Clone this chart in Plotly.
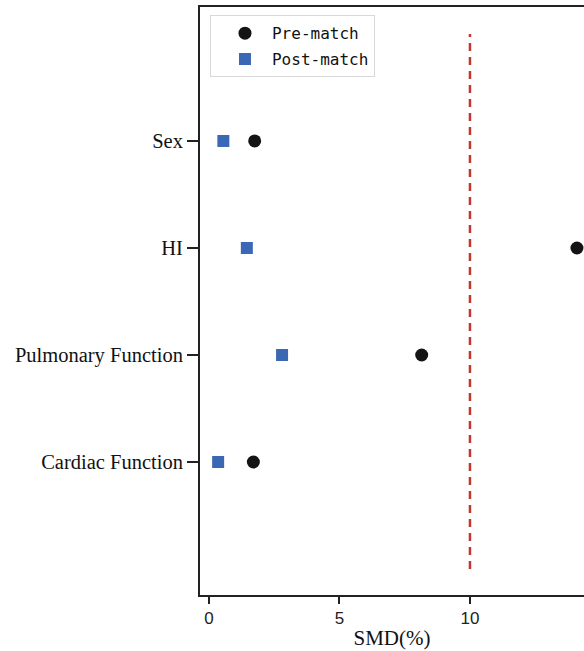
import plotly.graph_objects as go

categories = ["Sex", "HI", "Pulmonary Function", "Cardiac Function"]
cat_pos = [4, 3, 2, 1]
pre_match = [1.75, 14.1, 8.15, 1.7]
post_match = [0.55, 1.45, 2.8, 0.35]
threshold = 10
x_ticks = [0, 5, 10]

fig = go.Figure()
fig.add_trace(go.Scatter(
    x=[threshold, threshold], y=[0, 5], mode="lines",
    line=dict(color="#C0392B", width=2.5, dash="8px,6px"),
    showlegend=False, hoverinfo="skip"))
fig.add_trace(go.Scatter(
    x=pre_match, y=cat_pos, mode="markers", name="Pre-match", legendgroup="a",
    marker=dict(symbol="circle", size=13, color="#141414"), cliponaxis=False))
fig.add_trace(go.Scatter(
    x=post_match, y=cat_pos, mode="markers", name="Post-match", legendgroup="b",
    marker=dict(symbol="square", size=12, color="#3A68B4"), cliponaxis=False))

fig.update_layout(
    width=584, height=651,
    margin=dict(l=200, r=0, t=7, b=56),
    plot_bgcolor="white", paper_bgcolor="white",
    legend=dict(x=0.026, y=0.986, xanchor="left", yanchor="top",
                bgcolor="white", bordercolor="#D8D8D8", borderwidth=1,
                font=dict(family="DejaVu Sans Mono", size=16, color="#111"),
                itemwidth=44, indentation=7, tracegroupgap=2),
    xaxis=dict(range=[-0.345, 14.37], tickvals=x_ticks, ticks="outside", ticklen=7,
               tickwidth=2, tickcolor="#222", showgrid=False, zeroline=False,
               showline=True, linecolor="#222", linewidth=2, mirror=True,
               tickfont=dict(family="Liberation Sans, Arial", size=17, color="#222"),
               title=dict(text="SMD(%)", standoff=3,
                          font=dict(family="Liberation Serif, Times New Roman", size=21, color="#111"))),
    yaxis=dict(range=[-0.243, 5.252], tickvals=cat_pos, ticktext=categories,
               ticks="outside", ticklen=11, tickwidth=2, tickcolor="#222",
               showgrid=False, zeroline=False, showline=True, linecolor="#222",
               linewidth=2, ticklabelstandoff=0,
               tickfont=dict(family="Liberation Serif, Times New Roman", size=20.5, color="#111")),
)
fig.write_html("out.html", config={"displayModeBar": False},
               post_script="document.body.style.margin='0';document.body.style.overflow='hidden';")
